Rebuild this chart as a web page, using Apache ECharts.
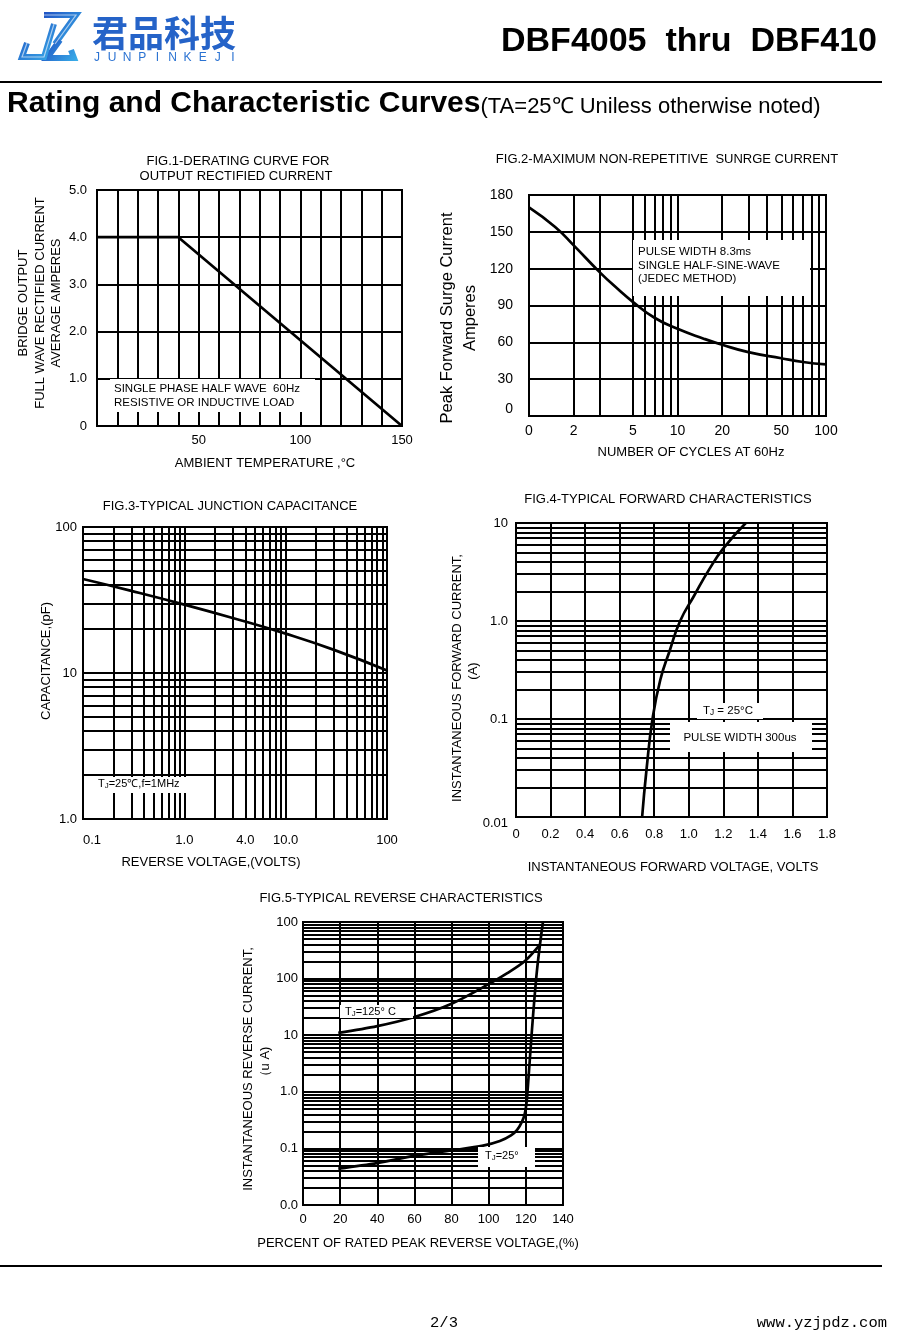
<!DOCTYPE html>
<html>
<head>
<meta charset="utf-8">
<script src="https://cdn.jsdelivr.net/npm/echarts@6/dist/echarts.min.js"></script>
<style>
html,body{margin:0;padding:0;background:#fff;}
#c{width:900px;height:1335px;}
</style>
</head>
<body>
<div id="c"></div>
<script>
// ---------------- DATA ----------------
// Fig.1 derating curve
const fig1Temp = [0, 40, 150];
const fig1Current = [4.0, 4.0, 0];
// Fig.2 surge current
const fig2Cycles = [1, 1.5, 2, 3, 4, 5, 7, 10, 15, 20, 30, 50, 70, 100];
const fig2Surge = [170, 154, 139, 117, 103, 93, 80, 71, 63, 58, 52, 47, 44, 42];
// Fig.3 junction capacitance
const fig3Voltage = [0.1, 0.3, 1, 3, 10, 30, 100];
const fig3Cap = [44, 36.5, 29.4, 23.8, 18.6, 14.4, 10.4];
// Fig.4 forward characteristics
const fig4Voltage = [0.73, 0.755, 0.79, 0.835, 0.89, 0.95, 1.03, 1.12, 1.2, 1.33];
const fig4Current = [0.01, 0.03, 0.1, 0.25, 0.5, 1.0, 1.8, 3.4, 5.5, 10];
// Fig.5 reverse characteristics
const fig5Pct125 = [19, 40, 60, 80, 100, 110, 119.5, 127.6];
const fig5Cur125 = [11, 14.5, 21, 36, 80, 125, 205, 400];
const fig5Pct25 = [19, 40, 60, 80, 97, 106, 112, 115.2, 118, 119.5, 120.5, 121.2, 122.2, 123.3, 124.5, 126, 127.6, 129.2];
const fig5Cur25 = [0.044, 0.055, 0.074, 0.092, 0.112, 0.135, 0.17, 0.21, 0.3, 0.42, 0.7, 1.4, 4, 12.6, 40, 141, 400, 1000];

// tick labels / grid positions
const fig1XLabels = [50, 100, 150];
const fig2XLabelValues = [1, 2, 5, 10, 20, 50, 100];
const fig2XLabelTexts = ['0', '2', '5', '10', '20', '50', '100'];
const fig2XMinor = [2, 3, 5, 6, 7, 8, 9, 20, 30, 40, 50, 60, 70, 80, 90];
const fig3XLabelValues = [0.1, 1, 4, 10, 100];
const fig3XLabelTexts = ['0.1', '1.0', '4.0', '10.0', '100'];
const fig3YLabelTexts = ['1.0', '10', '100'];            // decades 1,10,100
const fig4YLabelTexts = ['0.01', '0.1', '1.0', '10'];     // decades 0.01..10
const fig5YLabelTexts = ['0.0', '0.1', '1.0', '10', '100', '100']; // decades 0.01..1000

function decadeMinors(lo, hi) { // grid line positions 2..9 x 10^n
  const out = [];
  for (let e = lo; e < hi; e++) for (let m = 2; m <= 9; m++) out.push(+(m * Math.pow(10, e)).toPrecision(6));
  return out;
}
function zip(a, b) { return a.map((x, i) => [x, b[i]]); }
function expOf(v) { return Math.round(Math.log10(v)); }

// ---------------- STYLE ----------------
const F = '"Liberation Sans", Arial, Helvetica, sans-serif';
const GRID_W = 2;
const CURVE_W = 2.7;

const chart = echarts.init(document.getElementById('c'), null, { renderer: 'canvas', width: 900, height: 1335 });

function gridBox(left, top, width, height) {
  return { left, top, width, height, show: true, borderColor: '#000', borderWidth: 2, backgroundColor: 'rgba(0,0,0,0)', containLabel: false };
}
function lbl(size, margin, formatter, extra) {
  return Object.assign({ color: '#000', fontFamily: F, fontSize: size, margin, formatter, hideOverlap: false, showMinLabel: true, showMaxLabel: true }, extra || {});
}
const split = { show: true, lineStyle: { color: '#000', width: GRID_W, type: 'solid' } };

function gridLineSeries(idx, xVals, yVals, anchor) {
  return {
    type: 'line', xAxisIndex: idx, yAxisIndex: idx, data: [anchor], showSymbol: false, symbol: 'none',
    lineStyle: { width: 0 }, silent: true, animation: false, z: 1,
    markLine: {
      silent: true, symbol: ['none', 'none'], animation: false, label: { show: false },
      emphasis: { disabled: true },
      lineStyle: { color: '#000', width: GRID_W, type: 'solid' },
      data: [...xVals.map(v => ({ xAxis: v })), ...yVals.map(v => ({ yAxis: v }))]
    }
  };
}
function curve(idx, data, smooth) {
  return {
    type: 'line', xAxisIndex: idx, yAxisIndex: idx, data, symbol: 'none', showSymbol: false,
    smooth: smooth, lineStyle: { color: '#000', width: CURVE_W }, z: 10, animation: false, silent: true
  };
}

// ---------------- GRAPHIC TEXT HELPERS ----------------
function T(x, y, text, size, opts) {
  opts = opts || {};
  return {
    type: 'text', x, y, z: 101, rotation: opts.rot || 0, silent: true,
    style: {
      text, fill: opts.fill || '#000',
      font: (opts.weight || 'normal') + ' ' + size + 'px ' + (opts.family || F),
      textAlign: opts.align || 'center', textVerticalAlign: 'middle',
      align: opts.align || 'center', verticalAlign: 'middle',
      rich: opts.rich
    }
  };
}
function V(x, y, text, size) { return T(x, y, text, size, { rot: Math.PI / 2 }); }
function W(x, y, w, h) { return { type: 'rect', z: 100, silent: true, shape: { x, y, width: w, height: h }, style: { fill: '#fff' } }; }
function subJ(size) { return { s: { fontSize: size * 0.72, fontFamily: F, fill: '#000', verticalAlign: 'bottom' }, n: { fontSize: size, fontFamily: F, fill: '#000' } }; }

const logoGrad = new echarts.graphic.LinearGradient(0, 0, 1, 1, [{ offset: 0, color: '#1f4fc2' }, { offset: 1, color: '#39aee9' }]);
const SERIF = '"Liberation Mono", "DejaVu Sans Mono", monospace';

const junpin = 'JUNPINKEJI'.split('');
const graphics = [
  // header logo glyph
  { type: 'polyline', z: 100, shape: { points: [[44, 15], [76, 15], [55, 44]] }, style: { stroke: logoGrad, lineWidth: 6, fill: null, lineJoin: 'miter' } },
  { type: 'polyline', z: 100, shape: { points: [[60, 40], [47, 58], [74, 58], [71, 50]] }, style: { stroke: logoGrad, lineWidth: 6, fill: null, lineJoin: 'miter' } },
  { type: 'polyline', z: 100, shape: { points: [[54, 24], [44, 57], [22, 57], [27, 43]] }, style: { stroke: logoGrad, lineWidth: 6, fill: null, lineJoin: 'miter' } },
  { type: 'polyline', z: 101, shape: { points: [[54, 24], [44, 57], [22, 57], [27, 43]] }, style: { stroke: 'rgba(255,255,255,0.6)', lineWidth: 1.2, fill: null } },
  { type: 'polyline', z: 101, shape: { points: [[44, 15], [76, 15], [55, 44]] }, style: { stroke: 'rgba(255,255,255,0.6)', lineWidth: 1.2, fill: null } },
  T(92, 33, '君品科技', 36, { align: 'left', weight: 'bold', family: '"Noto Sans CJK SC", sans-serif', fill: '#2563c8' }),
  ...junpin.map((ch, i) => T(97 + i * 15.1, 58, ch, 12, { fill: '#2a72d2' })),
  T(877, 42, 'DBF4005  thru  DBF410', 34, { weight: 'bold', align: 'right' }),
  { type: 'line', z: 100, shape: { x1: 0, y1: 82, x2: 882, y2: 82 }, style: { stroke: '#000', lineWidth: 2 } },
  {
    type: 'text', x: 7, y: 104, z: 101, style: {
      text: '{a|Rating and Characteristic Curves}{b|(TA=25℃ Uniless otherwise noted)}',
      textAlign: 'left', textVerticalAlign: 'middle', align: 'left', verticalAlign: 'middle',
      rich: { a: { font: 'bold 30px ' + F, fill: '#000', verticalAlign: 'bottom' }, b: { font: '22px ' + F, fill: '#000', verticalAlign: 'bottom', padding: [0, 0, 1, 0] } }
    }
  },
  // footer
  { type: 'line', z: 100, shape: { x1: 0, y1: 1266, x2: 882, y2: 1266 }, style: { stroke: '#000', lineWidth: 2 } },
  T(444, 1323, '2/3', 15.5, { family: SERIF }),
  T(887, 1323, 'www.yzjpdz.com', 15.5, { align: 'right', family: SERIF }),

  // Fig.1
  T(238, 161, 'FIG.1-DERATING CURVE FOR', 13),
  T(236, 176, 'OUTPUT RECTIFIED CURRENT', 13),
  T(265, 463, 'AMBIENT TEMPERATURE ,°C', 13),
  V(23, 303, 'BRIDGE OUTPUT', 13),
  V(40, 303, 'FULL WAVE RECTIFIED CURRENT', 13),
  V(56, 303, 'AVERAGE AMPERES', 13),
  W(110, 379, 205, 33),
  T(114, 389, 'SINGLE PHASE HALF WAVE  60Hz', 11.5, { align: 'left' }),
  T(114, 403, 'RESISTIVE OR INDUCTIVE LOAD', 11.5, { align: 'left' }),

  // Fig.2
  T(667, 159, 'FIG.2-MAXIMUM NON-REPETITIVE  SUNRGE CURRENT', 13),
  V(447, 318, 'Peak Forward Surge Current', 16.5),
  V(470, 318, 'Amperes', 16.5),
  T(691, 452, 'NUMBER OF CYCLES AT 60Hz', 13),
  W(633, 240, 177, 56),
  T(638, 252, 'PULSE WIDTH 8.3ms', 11.5, { align: 'left' }),
  T(638, 266, 'SINGLE HALF-SINE-WAVE', 11.5, { align: 'left' }),
  T(638, 279, '(JEDEC METHOD)', 11.5, { align: 'left' }),

  // Fig.3
  T(230, 506, 'FIG.3-TYPICAL JUNCTION CAPACITANCE', 13),
  V(46, 661, 'CAPACITANCE,(pF)', 13),
  T(211, 862, 'REVERSE VOLTAGE,(VOLTS)', 13),
  W(86, 777, 126, 16),
  T(98, 784, '{n|T}{s|J}{n|=25℃,f=1MHz}', 11, { align: 'left', rich: subJ(11) }),

  // Fig.4
  T(668, 499, 'FIG.4-TYPICAL FORWARD CHARACTERISTICS', 13),
  V(457, 678, 'INSTANTANEOUS FORWARD CURRENT,', 13),
  V(473, 671, '(A)', 13),
  T(673, 867, 'INSTANTANEOUS FORWARD VOLTAGE, VOLTS', 13),
  W(697, 703, 66, 16),
  W(670, 722, 142, 30),
  T(728, 711, '{n|T}{s|J}{n| = 25°C}', 11.5, { rich: subJ(11.5) }),
  T(740, 738, 'PULSE WIDTH 300us', 11.5),

  // Fig.5
  T(401, 898, 'FIG.5-TYPICAL REVERSE CHARACTERISTICS', 13),
  V(248, 1069, 'INSTANTANEOUS REVERSE CURRENT,', 13),
  V(265, 1065, '（u A)', 13),
  T(418, 1243, 'PERCENT OF RATED PEAK REVERSE VOLTAGE,(%)', 13),
  W(340, 1005, 73, 13),
  W(478, 1147, 57, 20),
  T(345, 1012, '{n|T}{s|J}{n|=125° C}', 11, { align: 'left', rich: subJ(11) }),
  T(485, 1156, '{n|T}{s|J}{n|=25°}', 11, { align: 'left', rich: subJ(11) })
];

function pick(values, texts) {
  return v => {
    for (let i = 0; i < values.length; i++) if (Math.abs(v - values[i]) / values[i] < 1e-6) return texts[i];
    return '';
  };
}

const option = {
  animation: false,
  textStyle: { fontFamily: F },
  grid: [
    gridBox(97, 190, 305, 236),   // fig1
    gridBox(529, 195, 297, 221),  // fig2
    gridBox(83, 527, 304, 292),   // fig3
    gridBox(516, 523, 311, 294),  // fig4
    gridBox(303, 922, 260, 283)   // fig5
  ],
  xAxis: [
    { gridIndex: 0, type: 'value', min: 0, max: 150, interval: 10, axisLine: { show: false }, axisTick: { show: false }, splitLine: split,
      axisLabel: lbl(13, 8, v => (fig1XLabels.indexOf(v) >= 0 ? String(v) : '')) },
    { gridIndex: 1, type: 'log', logBase: 10, min: 1, max: 100, axisLine: { show: false }, axisTick: { show: false }, splitLine: split,
      axisLabel: lbl(14, 8, pick(fig2XLabelValues, fig2XLabelTexts), { customValues: fig2XLabelValues }) },
    { gridIndex: 2, type: 'log', logBase: 10, min: 0.1, max: 100, axisLine: { show: false }, axisTick: { show: false }, splitLine: split,
      axisLabel: lbl(13, 15, pick(fig3XLabelValues, fig3XLabelTexts), { customValues: fig3XLabelValues, alignMinLabel: 'left' }) },
    { gridIndex: 3, type: 'value', min: 0, max: 1.8, interval: 0.2, axisLine: { show: false }, axisTick: { show: false }, splitLine: split,
      axisLabel: lbl(13, 11, v => (v === 0 ? '0' : v.toFixed(1))) },
    { gridIndex: 4, type: 'value', min: 0, max: 140, interval: 20, axisLine: { show: false }, axisTick: { show: false }, splitLine: split,
      axisLabel: lbl(13, 8, v => String(v)) }
  ],
  yAxis: [
    { gridIndex: 0, type: 'value', min: 0, max: 5, interval: 1, axisLine: { show: false }, axisTick: { show: false }, splitLine: split,
      axisLabel: lbl(13, 10, v => (v === 0 ? '0' : v.toFixed(1))) },
    { gridIndex: 1, type: 'value', min: 0, max: 180, interval: 30, axisLine: { show: false }, axisTick: { show: false }, splitLine: split,
      axisLabel: lbl(14, 16, v => String(v), { verticalAlignMinLabel: 'bottom' }) },
    { gridIndex: 2, type: 'log', logBase: 10, min: 1, max: 100, axisLine: { show: false }, axisTick: { show: false }, splitLine: split,
      axisLabel: lbl(13, 6, v => fig3YLabelTexts[expOf(v)] || '') },
    { gridIndex: 3, type: 'log', logBase: 10, min: 0.01, max: 10, axisLine: { show: false }, axisTick: { show: false }, splitLine: split,
      axisLabel: lbl(13, 8, v => fig4YLabelTexts[expOf(v) + 2] || '', { verticalAlignMinLabel: 'top' }) },
    { gridIndex: 4, type: 'log', logBase: 10, min: 0.01, max: 1000, axisLine: { show: false }, axisTick: { show: false }, splitLine: split,
      axisLabel: lbl(13, 5, v => fig5YLabelTexts[expOf(v) + 2] || '') }
  ],
  series: [
    // grid minor lines for log axes
    gridLineSeries(1, fig2XMinor, [], [1, 0]),
    gridLineSeries(2, decadeMinors(-1, 2), decadeMinors(0, 2), [0.1, 1]),
    gridLineSeries(3, [], decadeMinors(-2, 1), [0, 0.01]),
    gridLineSeries(4, [], decadeMinors(-2, 3), [0, 0.01]),
    // curves
    curve(0, zip(fig1Temp, fig1Current), false),
    curve(1, zip(fig2Cycles, fig2Surge), true),
    curve(2, zip(fig3Voltage, fig3Cap), true),
    curve(3, zip(fig4Voltage, fig4Current), true),
    curve(4, zip(fig5Pct125, fig5Cur125), 0.3),
    curve(4, zip(fig5Pct25, fig5Cur25), 0.3)
  ],
  graphic: { elements: graphics }
};
chart.setOption(option);
</script>
</body>
</html>
